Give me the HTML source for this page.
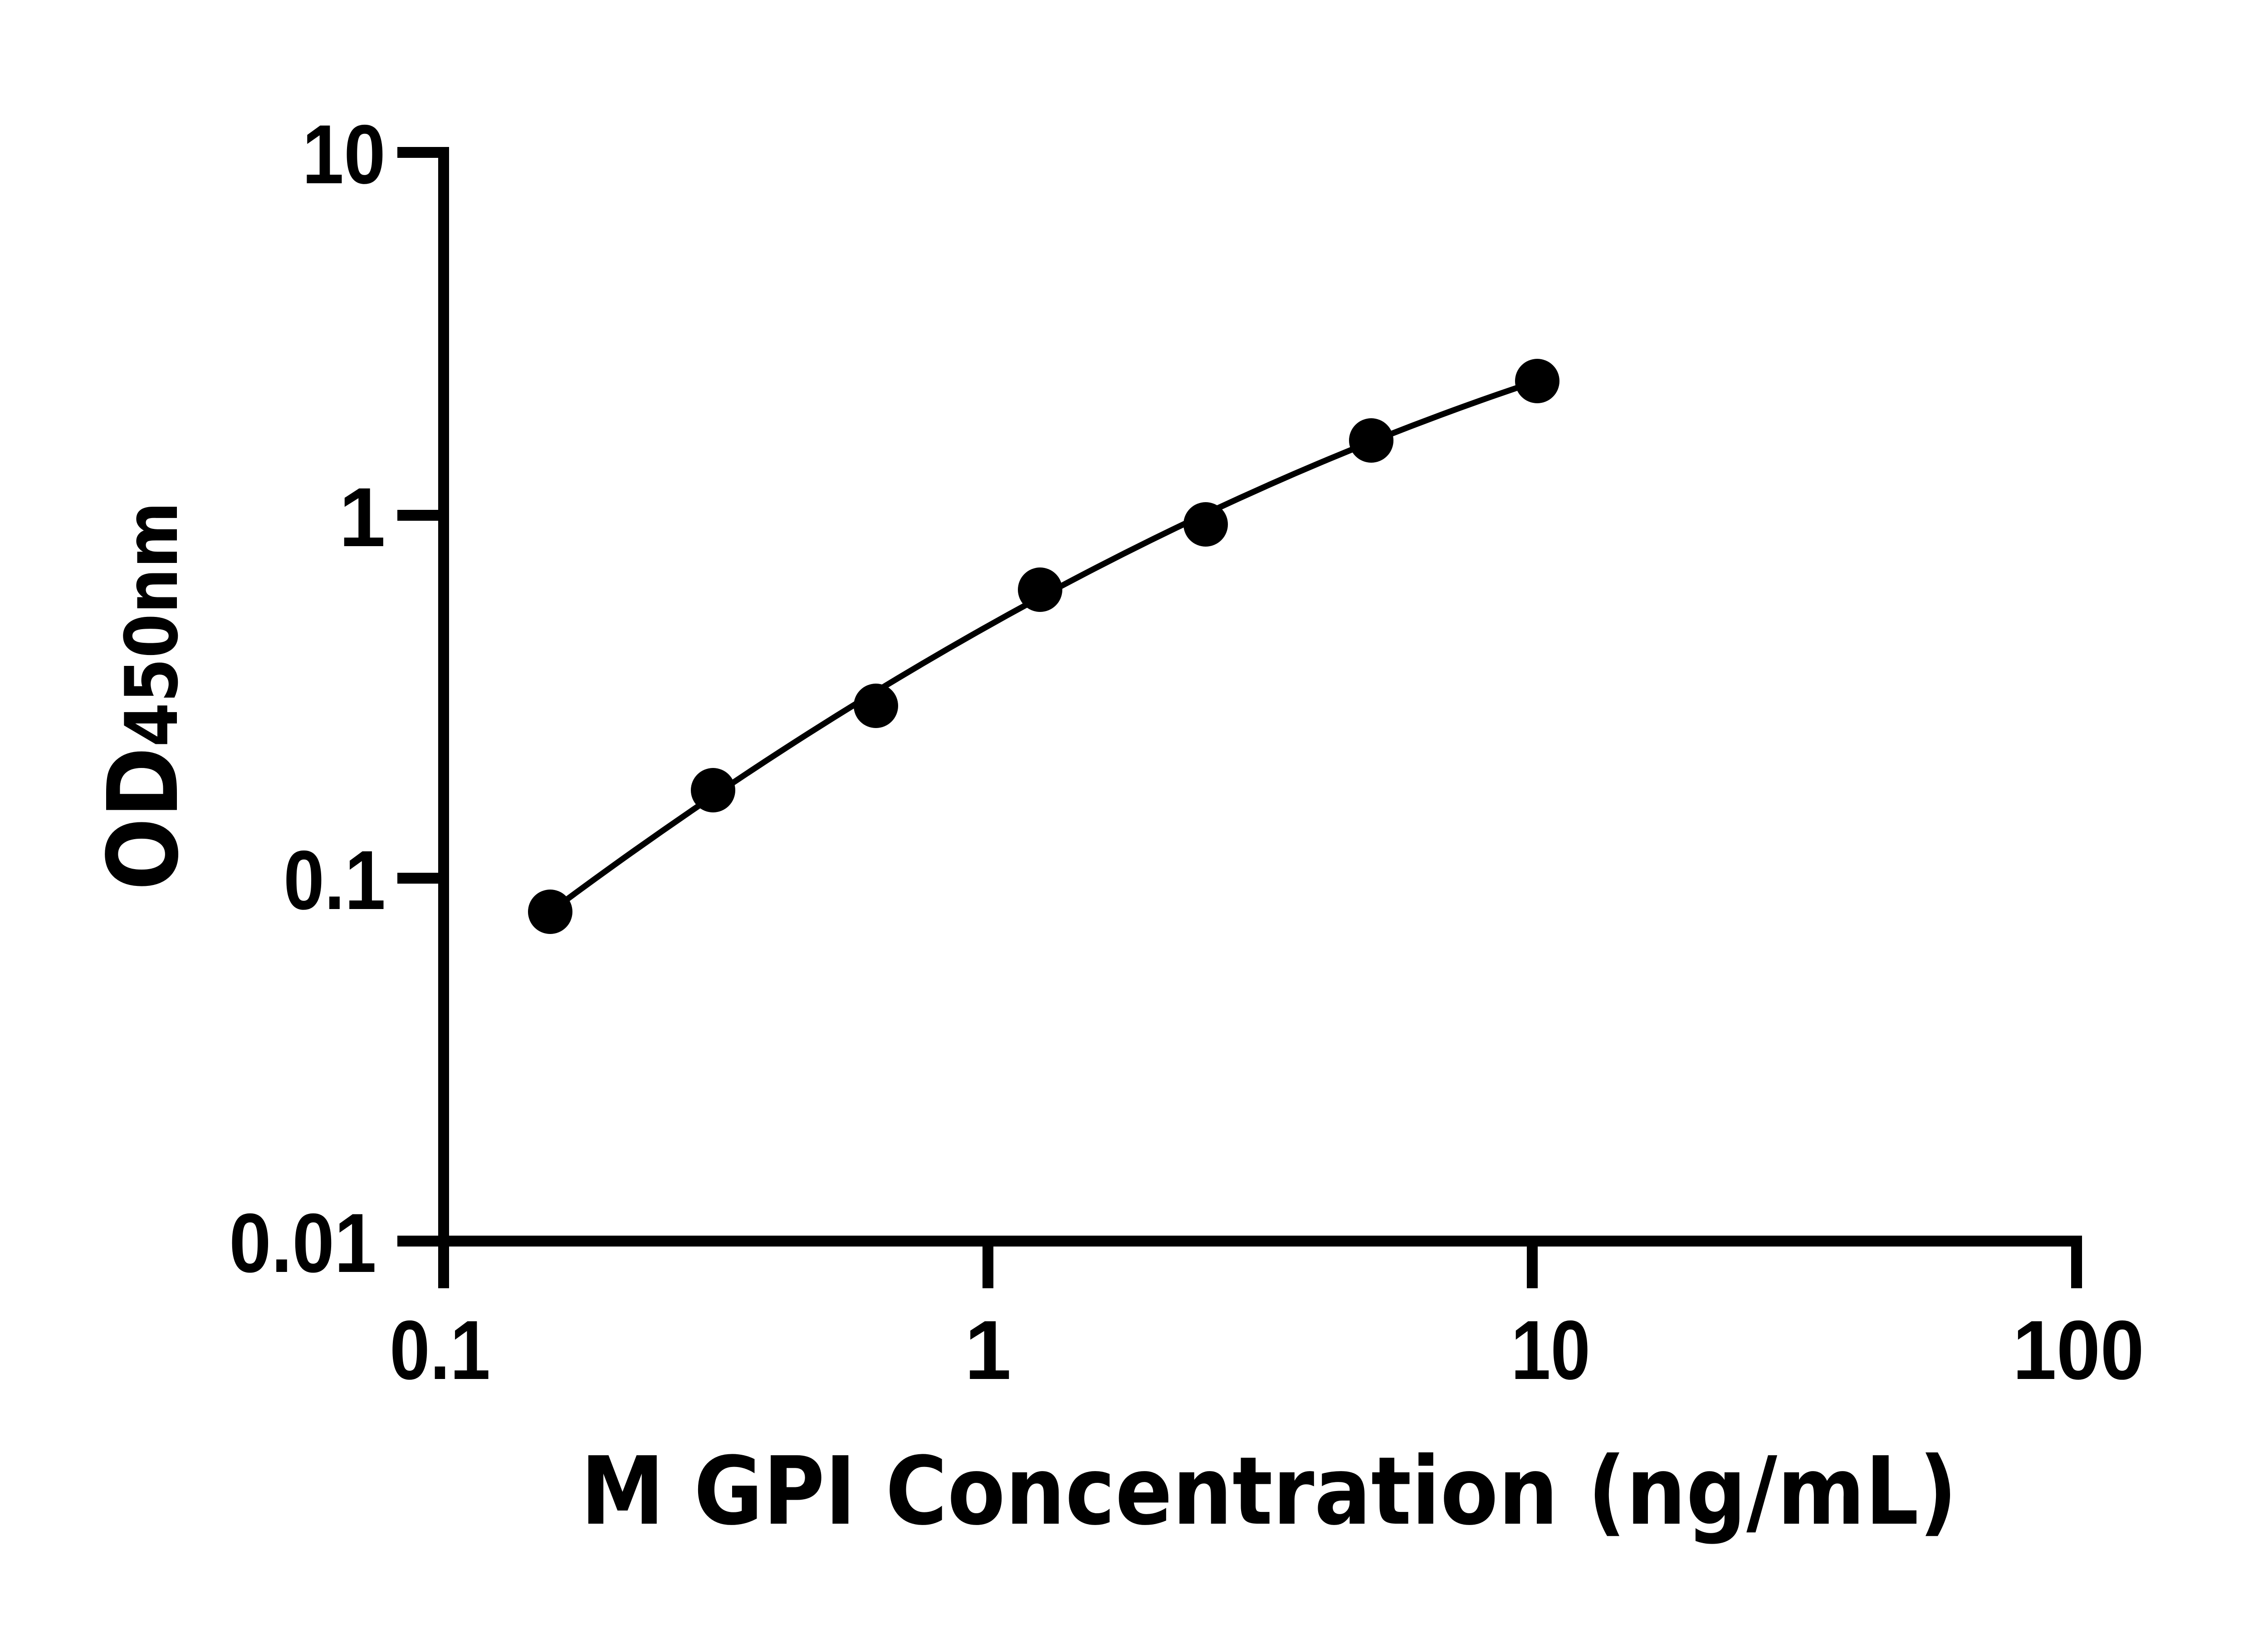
<!DOCTYPE html>
<html><head><meta charset="utf-8"><style>html,body{margin:0;padding:0;background:#fff}svg{display:block}</style></head>
<body>
<svg width="5130" height="3600" viewBox="0 0 5130 3600" xmlns="http://www.w3.org/2000/svg">
<rect width="5130" height="3600" fill="#fff"/>
<g stroke="#000" stroke-width="24" fill="none">
<line x1="978" y1="324" x2="978" y2="2840"/>
<line x1="966" y1="2736" x2="4590" y2="2736"/>
<line x1="876" y1="336" x2="990" y2="336"/>
<line x1="876" y1="1136" x2="978" y2="1136"/>
<line x1="876" y1="1936" x2="978" y2="1936"/>
<line x1="876" y1="2736" x2="978" y2="2736"/>
<line x1="2178" y1="2736" x2="2178" y2="2840"/>
<line x1="3378" y1="2736" x2="3378" y2="2840"/>
<line x1="4578" y1="2724" x2="4578" y2="2840"/>
</g>
<g font-family="'Liberation Sans', Arial, sans-serif" font-weight="bold" font-size="185" fill="#000">
<text x="850" y="404" text-anchor="end" textLength="184" lengthAdjust="spacingAndGlyphs">10</text>
<text x="850" y="1204" text-anchor="end">1</text>
<text x="850" y="2004" text-anchor="end" textLength="225" lengthAdjust="spacingAndGlyphs">0.1</text>
<text x="505" y="2804" textLength="325" lengthAdjust="spacingAndGlyphs">0.01</text>
<text x="859" y="3040" textLength="222" lengthAdjust="spacingAndGlyphs">0.1</text>
<text x="2178" y="3040" text-anchor="middle">1</text>
<text x="3331" y="3040" textLength="175" lengthAdjust="spacingAndGlyphs">10</text>
<text x="4437" y="3040" textLength="290" lengthAdjust="spacingAndGlyphs">100</text>
</g>
<text x="1280" y="3359" font-family="'DejaVu Sans', sans-serif" font-weight="bold" font-size="207" textLength="3035" lengthAdjust="spacingAndGlyphs">M GPI Concentration (ng/mL)</text>
<text transform="translate(390,1963) rotate(-90)" font-family="'DejaVu Sans', sans-serif" font-weight="bold" textLength="857" lengthAdjust="spacingAndGlyphs"><tspan font-size="214">OD</tspan><tspan font-size="160">450nm</tspan></text>
<path d="M1213,2010 Q2301,1200 3389,840" stroke="#000" stroke-width="13" fill="none"/>
<g fill="#000">
<circle cx="1213" cy="2010" r="49"/>
<circle cx="1572" cy="1742" r="49"/>
<circle cx="1931" cy="1556" r="49"/>
<circle cx="2293" cy="1300" r="49"/>
<circle cx="2658" cy="1156" r="49"/>
<circle cx="3023" cy="971" r="49"/>
<circle cx="3389" cy="840" r="49"/>
</g>
</svg>
</body></html>
